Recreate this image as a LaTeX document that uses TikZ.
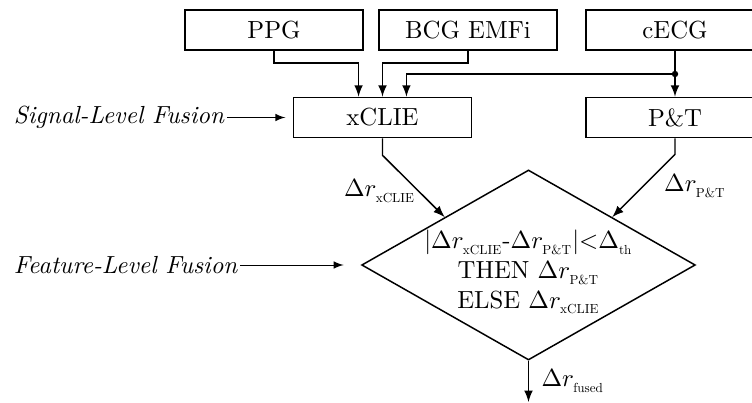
\documentclass[tikz,border=0pt]{standalone}
\usepackage{graphicx}
\usetikzlibrary{shapes}
\newcommand{\lowtag}[1]{_{\raisebox{-0.8pt}{\scalebox{0.53}{$\mathrm{#1}$}}}}
\begin{document}
\begin{tikzpicture}[x=0.0142cm,y=-0.0142cm]
        \tikzstyle{block}=[rectangle,draw,semithick,minimum width=2.53cm,minimum height=0.57cm,inner sep=0pt]
        \tikzstyle{decision}=[diamond,draw,semithick,aspect=1.76,minimum width=4.74cm,minimum height=2.7cm,inner sep=0pt]
        \tikzstyle{flow}=[-latex,semithick]
        \tikzstyle{stage}=[inner sep=1pt,font=\itshape]
        \useasboundingbox (0,0) rectangle (752,403);
        \node[block] (ppg) at (274,30) {PPG};
        \node[block] (bcg) at (468,30) {BCG EMFi};
        \node[block] (cecg) at (675,30) {cECG};
        \node[block] (xclie) at (382.5,117.5) {xCLIE};
        \node[block] (pt) at (675,117.5) {P\&T};
        \node[decision] (fuse) at (528.5,265) {};
        \node[align=center,inner sep=0pt] (rule) at (528.5,272) {$|\Delta r\lowtag{xCLIE}$-$\Delta r\lowtag{P\&T}|{<}\Delta\lowtag{th}$\\ THEN $\Delta r\lowtag{P\&T}$\\ ELSE $\Delta r\lowtag{xCLIE}$};
        \coordinate (tap) at (675,74);
        \coordinate (out) at (528.5,402);
        \node[stage,anchor=west] (sig) at (11,117.5) {Signal-Level Fusion};
        \node[stage,anchor=west] (feat) at (11,265) {Feature-Level Fusion};
        \draw[flow] (ppg.south) -- ++(0,12) -| ([xshift=-0.34cm]xclie.north);
        \draw[flow] (bcg.south) -- ++(0,12) -| (xclie.north);
        \draw[flow] (cecg.south) -- (pt.north);
        \fill (tap) circle (1.3pt);
        \draw[flow] (tap) -| ([xshift=0.34cm]xclie.north);
        \draw[flow] (xclie.south) -- ++(0,17) -- node[left,inner sep=1pt,xshift=2pt,yshift=-2pt] {$\Delta r\lowtag{xCLIE}$} (fuse.north west);
        \draw[flow] (pt.south) -- ++(0,16) -- node[right=7pt,inner sep=1pt] {$\Delta r\lowtag{P\&T}$} (fuse.north east);
        \draw[flow] (fuse.south) -- node[right=4pt,inner sep=1pt] {$\Delta r\lowtag{fused}$} (out);
        \draw[-latex,thin,shorten >=3pt] (sig) -- (xclie);
        \draw[-latex,thin,shorten >=7pt] (feat) -- (fuse);
\end{tikzpicture}
\end{document}
